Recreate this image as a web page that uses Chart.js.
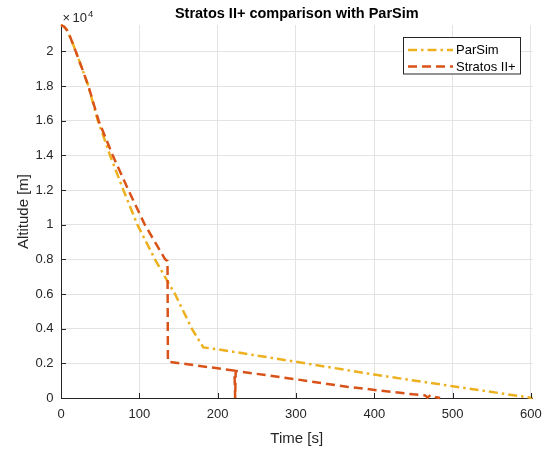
<!DOCTYPE html>
<html>
<head>
<meta charset="utf-8">
<script src="https://cdn.jsdelivr.net/npm/chart.js@4.4.1/dist/chart.umd.min.js"></script>
<style>
html,body{margin:0;padding:0;background:#fff;}
#wrap{width:544px;height:450px;position:relative;}
</style>
</head>
<body>
<div id="wrap"><canvas id="c" width="544" height="450"></canvas></div>
<script>
// ---- data ----
const chartTitle = "Stratos II+ comparison with ParSim";
const xLabel = "Time [s]";
const yLabel = "Altitude [m]";
const seriesNames = ["ParSim", "Stratos II+"];

const parsimTime = [0, 4, 7.5, 11.5, 15.7, 18.8, 27, 34.9, 47, 55, 62.6, 79.6, 97.5, 120, 135, 145.6, 167, 181.7, 200, 300, 400, 500, 602];
const parsimAlt  = [21520, 21420, 21230, 20850, 20370, 20000, 19000, 18000, 16000, 15000, 14000, 12000, 10000, 8000, 6810, 6000, 4000, 2920, 2810, 2090, 1350, 680, 0];

const stratosTime = [0, 4, 7.5, 11.5, 15.7, 18.8, 27, 35, 48, 66, 86, 107, 120, 133, 136, 136.5, 200, 221, 221.6, 222.4, 223, 300, 365, 450, 465, 468, 472, 478, 484];
const stratosAlt  = [21520, 21420, 21230, 20850, 20370, 20000, 19000, 18000, 16000, 14000, 12000, 10000, 9000, 8000, 7900, 2100, 1710, 1580, 1300, 0, 1560, 1080, 650, 210, 150, 20, 180, 60, 0];

const xTicks = [0, 100, 200, 300, 400, 500, 600];
const yTicks = [0, 2000, 4000, 6000, 8000, 10000, 12000, 14000, 16000, 18000, 20000];
const yExponent = 4;

// ---- styling ----
const COL_PAR = '#EDB120';
const COL_STR = '#D95319';
const AX = '#262626';
const FONT = "'Liberation Sans', Arial, Helvetica, sans-serif";
const DASH_PAR = [9, 4, 2.5, 4];
const DASH_STR = [9, 5];

const toPts = (xs, ys) => xs.map((x, i) => ({x: x, y: ys[i]}));

const deco = {
  id: 'deco',
  afterDraw(chart) {
    const ctx = chart.ctx, a = chart.chartArea, xs = chart.scales.x, ys = chart.scales.y;
    ctx.save();
    // inward ticks
    ctx.strokeStyle = AX; ctx.lineWidth = 1;
    ctx.beginPath();
    xTicks.forEach(v => { const px = Math.round(xs.getPixelForValue(v)) + 0.5; ctx.moveTo(px, a.bottom); ctx.lineTo(px, a.bottom - 5); });
    yTicks.forEach(v => { const py = Math.round(ys.getPixelForValue(v)) + 0.5; ctx.moveTo(a.left, py); ctx.lineTo(a.left + 5, py); });
    ctx.stroke();
    // title
    ctx.fillStyle = '#000';
    ctx.font = "bold 14.5px " + FONT;
    ctx.textAlign = 'center'; ctx.textBaseline = 'alphabetic';
    ctx.fillText(chartTitle, (a.left + a.right) / 2, 17.5);
    // axis titles
    ctx.fillStyle = AX;
    ctx.font = "15px " + FONT;
    ctx.fillText(xLabel, (a.left + a.right) / 2, 443);
    ctx.save();
    ctx.translate(27.5, (a.top + a.bottom) / 2);
    ctx.rotate(-Math.PI / 2);
    ctx.fillText(yLabel, 0, 0);
    ctx.restore();
    // exponent label
    ctx.textAlign = 'left';
    ctx.font = "13px " + FONT;
    ctx.fillText("\u00d7", 62.5, 21.5);
    ctx.fillText("10", 72.5, 21.5);
    ctx.font = "9.5px " + FONT;
    ctx.fillText(String(yExponent), 88, 17);
    // legend
    const bx = 403.5, by = 37.5, bw = 117, bh = 36.5;
    ctx.fillStyle = '#fff';
    ctx.fillRect(bx, by, bw, bh);
    ctx.strokeStyle = AX; ctx.lineWidth = 1;
    ctx.strokeRect(bx, by, bw, bh);
    const items = [
      {name: seriesNames[0], color: COL_PAR, dash: DASH_PAR, y: 50},
      {name: seriesNames[1], color: COL_STR, dash: DASH_STR, y: 66.5}
    ];
    items.forEach(it => {
      ctx.strokeStyle = it.color; ctx.lineWidth = 2.5; ctx.setLineDash(it.dash);
      ctx.beginPath(); ctx.moveTo(408, it.y); ctx.lineTo(453, it.y); ctx.stroke();
      ctx.setLineDash([]);
      ctx.fillStyle = '#000'; ctx.font = "13px " + FONT; ctx.textBaseline = 'middle';
      ctx.fillText(it.name, 456, it.y + 0.5);
    });
    ctx.restore();
  }
};

Chart.defaults.font.family = FONT;
Chart.defaults.font.size = 13;
Chart.defaults.color = AX;

const yTickLabel = v => String(Math.round(v / Math.pow(10, yExponent) * 10) / 10);

new Chart(document.getElementById('c'), {
  type: 'line',
  data: {
    datasets: [
      {label: seriesNames[0], data: toPts(parsimTime, parsimAlt), borderColor: COL_PAR, borderWidth: 2.5,
       borderDash: DASH_PAR, pointRadius: 0, tension: 0, fill: false, order: 1, clip: 4},
      {label: seriesNames[1], data: toPts(stratosTime, stratosAlt), borderColor: COL_STR, borderWidth: 2.5,
       borderDash: DASH_STR, pointRadius: 0, tension: 0, fill: false, order: 0, clip: 4}
    ]
  },
  options: {
    responsive: false,
    animation: false,
    events: [],
    layout: {padding: {top: 25, right: 11.5, left: 0, bottom: 0}},
    plugins: {legend: {display: false}, tooltip: {enabled: false}, title: {display: false}},
    scales: {
      x: {
        type: 'linear', min: 0, max: 602,
        afterFit: s => { s.height = 52; s.paddingLeft = 0; s.paddingRight = 0; },
        afterBuildTicks: s => { s.ticks = xTicks.map(v => ({value: v})); },
        ticks: {padding: 9, maxRotation: 0, color: AX, font: {size: 13}},
        grid: {color: '#e3e3e3', drawTicks: false, lineWidth: 1},
        border: {color: AX, width: 1}
      },
      y: {
        type: 'linear', min: 0, max: 21520,
        afterFit: s => { s.width = 61; s.paddingTop = 0; s.paddingBottom = 0; },
        afterBuildTicks: s => { s.ticks = yTicks.map(v => ({value: v})); },
        ticks: {padding: 7.5, color: AX, font: {size: 13}, callback: yTickLabel},
        grid: {color: '#e3e3e3', drawTicks: false, lineWidth: 1},
        border: {color: AX, width: 1}
      }
    }
  },
  plugins: [deco]
});
</script>
</body>
</html>
